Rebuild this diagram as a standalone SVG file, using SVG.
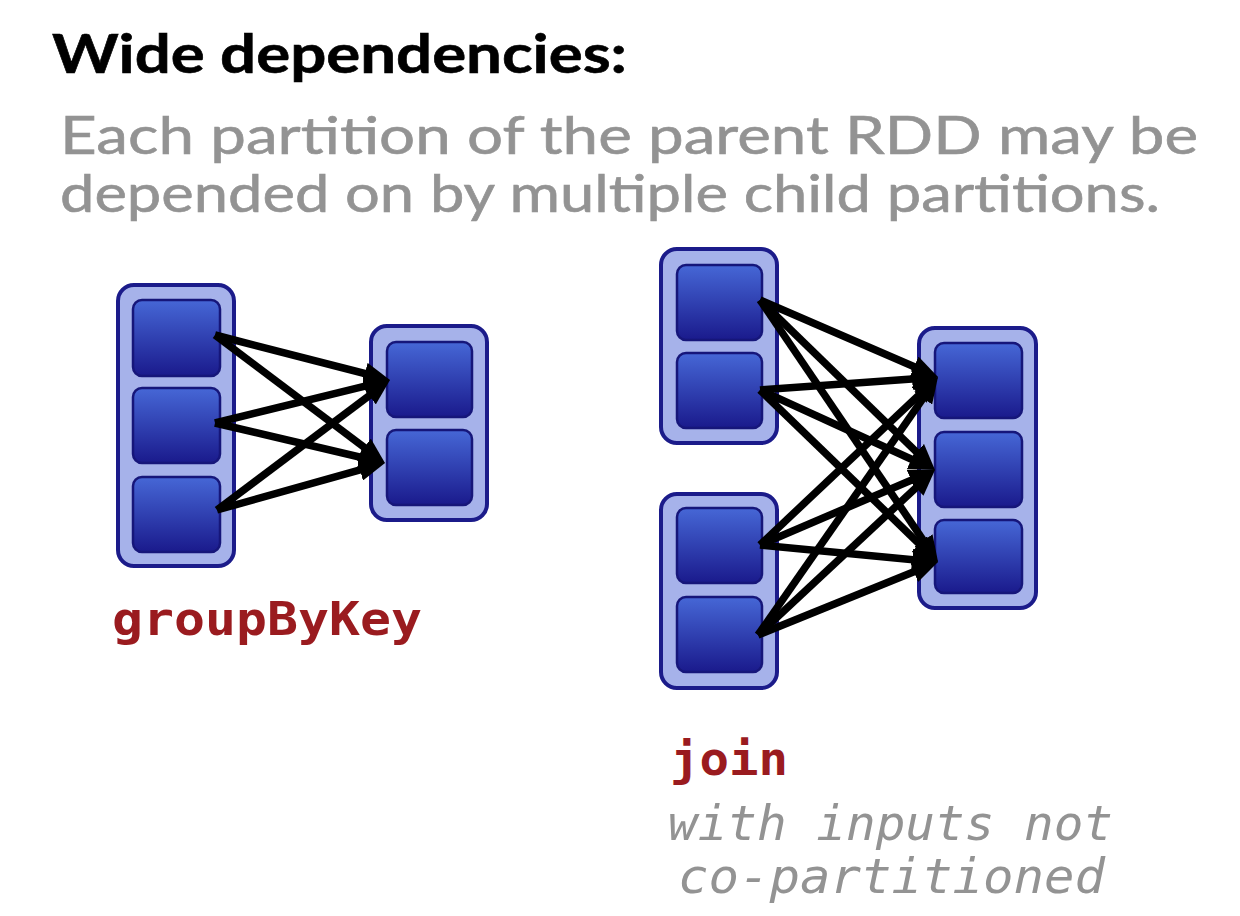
<svg xmlns="http://www.w3.org/2000/svg" width="1240" height="916" viewBox="0 0 1240 916">
<style>
.outer{fill:#a6b2ea;stroke:#1b1b8a;stroke-width:4}
.part{fill:url(#pg);stroke:#16167a;stroke-width:2.5}
.arr{stroke:#000;stroke-width:7.5;fill:none;marker-end:url(#ah)}
.title{font-family:Lato,"Liberation Sans",sans-serif;font-weight:bold;font-size:54px;fill:#000;stroke:#000;stroke-width:0.6}
.sub{font-family:Lato,"Liberation Sans",sans-serif;font-size:52px;fill:#939393;stroke:#939393;stroke-width:0.6}
.op{font-family:"DejaVu Sans Mono","Liberation Mono",monospace;font-weight:bold;font-size:46px;fill:#9a1b1f}
.note{font-family:"DejaVu Sans Mono","Liberation Mono",monospace;font-style:italic;font-size:48px;fill:#939393}
</style>
<defs>
<linearGradient id="pg" x1="0" y1="0" x2="0" y2="1">
<stop offset="0" stop-color="#4667d6"/>
<stop offset="1" stop-color="#1a1a8c"/>
</linearGradient>
<marker id="ah" markerUnits="userSpaceOnUse" viewBox="0 0 26 22" refX="14" refY="11" markerWidth="26" markerHeight="22" orient="auto">
<path d="M0,0 L26,11 L0,22 Z" fill="#000"/>
</marker>
</defs>
<rect width="1240" height="916" fill="#fff"/>
<g id="heading">
<text class="title" x="52" y="73" textLength="575" lengthAdjust="spacingAndGlyphs">Wide dependencies:</text>
<text class="sub" x="60" y="154" textLength="1138" lengthAdjust="spacingAndGlyphs">Each partition of the parent RDD may be</text>
<text class="sub" x="60" y="212" textLength="1100" lengthAdjust="spacingAndGlyphs">depended on by multiple child partitions.</text>
</g>
<g id="gbk-parent">
<rect class="outer" x="118" y="285" width="116" height="281" rx="16"/>
<rect class="part" x="133" y="300" width="87" height="76" rx="9"/>
<rect class="part" x="133" y="388" width="87" height="75" rx="9"/>
<rect class="part" x="133" y="477" width="87" height="75" rx="9"/>
</g>
<g id="gbk-child">
<rect class="outer" x="371" y="326" width="116" height="194" rx="16"/>
<rect class="part" x="387" y="342" width="85" height="75" rx="9"/>
<rect class="part" x="387" y="430" width="85" height="75" rx="9"/>
</g>
<g id="join-parent-a">
<rect class="outer" x="661" y="249" width="116" height="194" rx="16"/>
<rect class="part" x="677" y="265" width="85" height="75" rx="9"/>
<rect class="part" x="677" y="353" width="85" height="75" rx="9"/>
</g>
<g id="join-parent-b">
<rect class="outer" x="661" y="494" width="116" height="194" rx="16"/>
<rect class="part" x="677" y="508" width="85" height="75" rx="9"/>
<rect class="part" x="677" y="597" width="85" height="75" rx="9"/>
</g>
<g id="join-child">
<rect class="outer" x="919" y="328" width="117" height="280" rx="16"/>
<rect class="part" x="935" y="343" width="87" height="75" rx="9"/>
<rect class="part" x="935" y="432" width="87" height="75" rx="9"/>
<rect class="part" x="935" y="520" width="87" height="73" rx="9"/>
</g>
<g id="connectors">
<line class="arr" x1="215" y1="335" x2="378.4" y2="377.0"/>
<line class="arr" x1="215" y1="335" x2="375.4" y2="455.8"/>
<line class="arr" x1="215" y1="423" x2="378.35" y2="382.9"/>
<line class="arr" x1="215" y1="423" x2="373.3" y2="460.25"/>
<line class="arr" x1="217" y1="510" x2="380.4" y2="387.2"/>
<line class="arr" x1="217" y1="510" x2="373.45" y2="466.2"/>
<line class="arr" x1="760" y1="300" x2="927.0" y2="372.2"/>
<line class="arr" x1="760" y1="300" x2="926.4" y2="461.6"/>
<line class="arr" x1="760" y1="300" x2="931.3" y2="552.1"/>
<line class="arr" x1="760" y1="390" x2="926.0" y2="377.9"/>
<line class="arr" x1="760" y1="390" x2="924.1" y2="465.0"/>
<line class="arr" x1="760" y1="390" x2="929.4" y2="553.7"/>
<line class="arr" x1="760" y1="545" x2="929.3" y2="385.2"/>
<line class="arr" x1="760" y1="545" x2="924.0" y2="474.7"/>
<line class="arr" x1="760" y1="545" x2="926.1" y2="560.9"/>
<line class="arr" x1="758" y1="635" x2="931.1" y2="386.8"/>
<line class="arr" x1="758" y1="635" x2="926.2" y2="478.2"/>
<line class="arr" x1="758" y1="635" x2="926.9" y2="566.5"/>
</g>
<g id="labels">
<text class="op" x="112" y="635" textLength="310" lengthAdjust="spacingAndGlyphs">groupByKey</text>
<text class="op" x="670" y="775" textLength="118" lengthAdjust="spacingAndGlyphs">join</text>
<text class="note" x="668" y="840" textLength="445" lengthAdjust="spacingAndGlyphs">with inputs not</text>
<text class="note" x="678" y="893" textLength="427" lengthAdjust="spacingAndGlyphs">co-partitioned</text>
</g>
</svg>
